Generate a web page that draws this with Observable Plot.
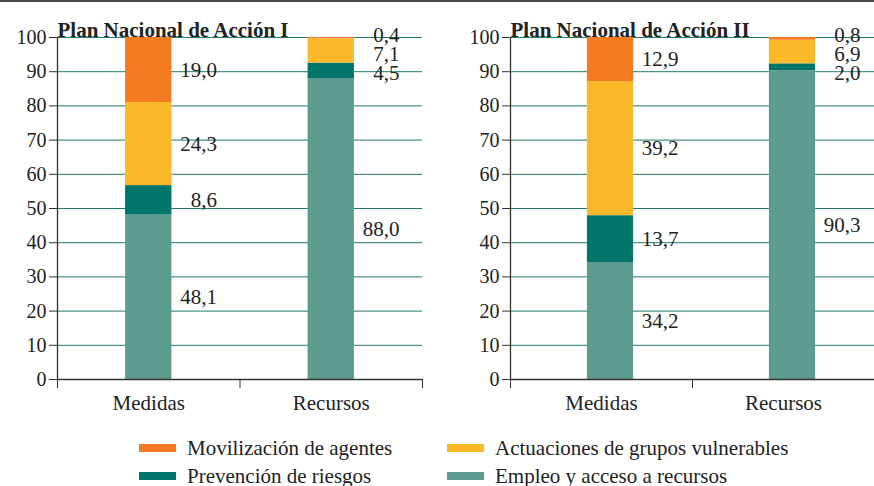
<!DOCTYPE html>
<html>
<head>
<meta charset="utf-8">
<script src="https://cdn.jsdelivr.net/npm/d3@7"></script>
<script src="https://cdn.jsdelivr.net/npm/@observablehq/plot@0.6"></script>
<style>
  html, body { margin: 0; padding: 0; background: #fff; }
  #root { position: relative; width: 874px; height: 486px; overflow: hidden; font-family: "Liberation Serif", "DejaVu Serif", serif; color: #222; }
  #root svg, #root svg text { font-family: "Liberation Serif", "DejaVu Serif", serif !important; }
  #topline { position: absolute; left: 0; top: 0; width: 874px; height: 2px; background: #4a4a4a; }
  .panel { position: absolute; top: 0; }
  .leg { position: absolute; display: flex; align-items: center; font-size: 21px; white-space: nowrap; font-family: "Liberation Serif", "DejaVu Serif", serif; }
  .sw { width: 37px; height: 8px; margin-right: 11px; }
</style>
</head>
<body>
<div id="root">
  <div id="p1" class="panel" style="left:0px"></div>
  <div id="p2" class="panel" style="left:437px"></div>
  <div id="topline"></div>
  <div id="legend"></div>
</div>
<script>
// ---- data ----
const categories = ["Medidas", "Recursos"];
const seriesNames = ["Movilización de agentes", "Actuaciones de grupos vulnerables", "Prevención de riesgos", "Empleo y acceso a recursos"];
const seriesColors = ["#F47B20", "#FBB829", "#00766A", "#5E9B8F"];
const plan1Medidas = [19.0, 24.3, 8.6, 48.1];
const plan1Recursos = [0.4, 7.1, 4.5, 88.0];
const plan2Medidas = [12.9, 39.2, 13.7, 34.2];
const plan2Recursos = [0.8, 6.9, 2.0, 90.3];
const yTicks = [0, 10, 20, 30, 40, 50, 60, 70, 80, 90, 100];
const titles = ["Plan Nacional de Acción I", "Plan Nacional de Acción II"];

// ---- build stacked rows (bottom series = last in list) ----
function buildRows(valuesByCat) {
  const rows = [];
  valuesByCat.forEach((vals, ci) => {
    let acc = 0;
    for (let si = vals.length - 1; si >= 0; si--) {
      const v = vals[si];
      rows.push({ci, si, cat: categories[ci], series: seriesNames[si], value: v, y1: acc, y2: acc + v});
      acc += v;
    }
  });
  // label positions: segment midpoint, small segments laddered from the top
  valuesByCat.forEach((vals, ci) => {
    const small = rows.filter(r => r.ci === ci && r.value < 8).sort((a, b) => a.si - b.si);
    rows.filter(r => r.ci === ci).forEach(r => { r.ly = (r.y1 + r.y2) / 2; });
    if (small.length > 1) small.forEach((r, k) => { r.ly = 100.6 - k * 5.6; });
  });
  return rows;
}

const fmt = v => v.toFixed(1).replace(".", ",");
const half = 0.127;
const FONT = "Liberation Serif, DejaVu Serif, serif";

function panel(el, title, rows, marginLeft, marginRight, shift) {
  const chart = Plot.plot({
    width: 437,
    height: 425,
    marginLeft, marginRight,
    marginTop: 37,
    marginBottom: 46,
    x: {domain: [0, 2], axis: null},
    y: {domain: [0, 100], axis: null},
    color: {type: "identity"},
    style: {fontFamily: FONT, fontSize: "20px", color: "#222", background: "white", overflow: "visible"},
    marks: [
      Plot.ruleY(yTicks.filter(t => t > 0), {stroke: "#1E7B6D", strokeWidth: 1}),
      Plot.rect(rows, {x1: d => d.ci + 0.5 - half, x2: d => d.ci + 0.5 + half, y1: "y1", y2: "y2", fill: d => seriesColors[d.si], dx: shift}),
      Plot.ruleY([0], {stroke: "#333", strokeWidth: 1.3}),
      Plot.ruleX([0], {y1: 0, y2: 100, stroke: "#333", strokeWidth: 1.3}),
      Plot.axisY({ticks: yTicks, tickSize: 8, tickPadding: 3, fontSize: 20, stroke: "#333", label: null}),
      Plot.axisX({ticks: [0, 1, 2], tickSize: 9, tickFormat: () => "", stroke: "#333", label: null}),
      Plot.text(categories, {x: (d, i) => i + 0.5, frameAnchor: "bottom", dy: 30, fontSize: 21, fill: "#222"}),
      Plot.text(rows, {x: d => d.ci + 0.5 + half, y: "ly", text: d => fmt(d.value), textAnchor: "end", dx: 45 + shift, fontSize: 21, fill: "#222"}),
      Plot.text([title], {frameAnchor: "top-left", dy: -15, textAnchor: "start", fontWeight: "bold", fontSize: 21, fill: "#222"})
    ]
  });
  document.getElementById(el).appendChild(chart);
}

panel("p1", titles[0], buildRows([plan1Medidas, plan1Recursos]), 57, 15, 0);
panel("p2", titles[1], buildRows([plan2Medidas, plan2Recursos]), 73, 0, 9);

// ---- legend ----
const legPos = [
  {left: 139, top: 448}, {left: 447, top: 448},
  {left: 139, top: 476}, {left: 447, top: 476}
];
const legend = document.getElementById("legend");
seriesNames.forEach((name, i) => {
  const d = document.createElement("div");
  d.className = "leg";
  d.style.left = legPos[i].left + "px";
  d.style.top = (legPos[i].top - 13) + "px";
  d.style.height = "26px";
  const sw = document.createElement("div");
  sw.className = "sw";
  sw.style.background = seriesColors[i];
  const t = document.createElement("span");
  t.textContent = name;
  d.appendChild(sw); d.appendChild(t);
  legend.appendChild(d);
});
</script>
</body>
</html>
